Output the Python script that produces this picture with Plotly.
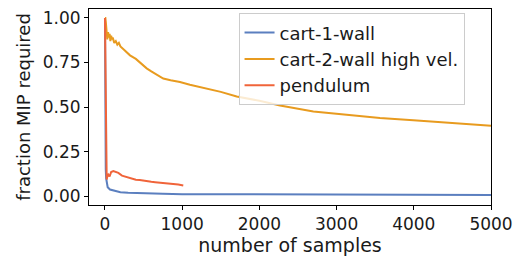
import plotly.graph_objects as go

cart1_x = [0, 2, 4, 6, 10, 15, 22, 35, 65, 130, 200, 300, 500, 750, 1000, 1500, 2000, 3000, 4000, 5000]
cart1_y = [1.0, 0.6, 0.35, 0.25, 0.15, 0.10, 0.075, 0.05, 0.037, 0.028, 0.022, 0.019, 0.015, 0.013, 0.011, 0.010, 0.009, 0.008, 0.007, 0.006]

cart2_x = [0, 5, 10, 20, 30, 40, 50, 60, 70, 80, 90, 100, 120, 140, 160, 180, 200, 250, 324, 400, 450, 540, 600, 700, 755, 850, 971, 1100, 1200, 1317, 1500, 1706, 2000, 2267, 2699, 3130, 3562, 3994, 4426, 4700, 5000]
cart2_y = [1.0, 1.0, 0.98, 0.93, 0.88, 0.92, 0.89, 0.91, 0.87, 0.90, 0.88, 0.89, 0.86, 0.87, 0.85, 0.86, 0.84, 0.82, 0.79, 0.77, 0.75, 0.717, 0.70, 0.675, 0.66, 0.65, 0.64, 0.625, 0.615, 0.60, 0.585, 0.559, 0.535, 0.508, 0.475, 0.456, 0.438, 0.425, 0.413, 0.405, 0.395]

pend_x = [0, 5, 8, 12, 16, 22, 30, 43, 60, 80, 108, 140, 173, 220, 260, 302, 350, 400, 450, 518, 600, 650, 734, 800, 885, 950, 1014]
pend_y = [1.0, 0.7, 0.4, 0.2, 0.12, 0.093, 0.11, 0.12, 0.11, 0.135, 0.14, 0.135, 0.13, 0.115, 0.11, 0.103, 0.10, 0.092, 0.09, 0.084, 0.08, 0.078, 0.075, 0.073, 0.07, 0.065, 0.06]

x_ticks = [0, 1000, 2000, 3000, 4000, 5000]
y_ticks = [0.0, 0.25, 0.5, 0.75, 1.0]
y_tick_labels = ["0.00", "0.25", "0.50", "0.75", "1.00"]

FONT = "DejaVu Sans"
TXT = "#1a1a1a"
fig = go.Figure()
fig.add_trace(go.Scatter(x=cart1_x, y=cart1_y, mode="lines", name="cart-1-wall",
                         line=dict(color="#5b7fbf", width=2)))
fig.add_trace(go.Scatter(x=cart2_x, y=cart2_y, mode="lines", name="cart-2-wall high vel.",
                         line=dict(color="#e89b1f", width=2)))
fig.add_trace(go.Scatter(x=pend_x, y=pend_y, mode="lines", name="pendulum",
                         line=dict(color="#f0643a", width=2)))

axis_common = dict(showline=True, linecolor="black", linewidth=1, mirror=True,
                   ticks="outside", ticklen=4, tickcolor="black", tickwidth=1,
                   showgrid=False, zeroline=False, automargin=False,
                   tickfont=dict(family=FONT, size=17, color=TXT))
fig.update_xaxes(range=[-207, 5000], tickvals=x_ticks,
                 title=dict(text="number of samples", font=dict(family=FONT, size=19, color=TXT), standoff=4),
                 **axis_common)
fig.update_yaxes(range=[-0.05, 1.05], tickvals=y_ticks, ticktext=y_tick_labels,
                 title=dict(text="fraction MIP required", font=dict(family=FONT, size=18, color=TXT), standoff=7),
                 **axis_common)

fig.update_layout(
    width=515, height=258,
    margin=dict(l=89, r=24, t=9, b=53),
    plot_bgcolor="white", paper_bgcolor="white",
    font=dict(family=FONT, size=17, color=TXT),
    legend=dict(x=0.372, y=0.978, xanchor="left", yanchor="top",
                bgcolor="rgba(255,255,255,0.8)", bordercolor="#cccccc", borderwidth=1,
                font=dict(family=FONT, size=18, color=TXT), tracegroupgap=0),
)
fig.write_html("out.html", config={"displayModeBar": False},
               post_script="document.body.style.margin='0';document.body.style.overflow='hidden';")
